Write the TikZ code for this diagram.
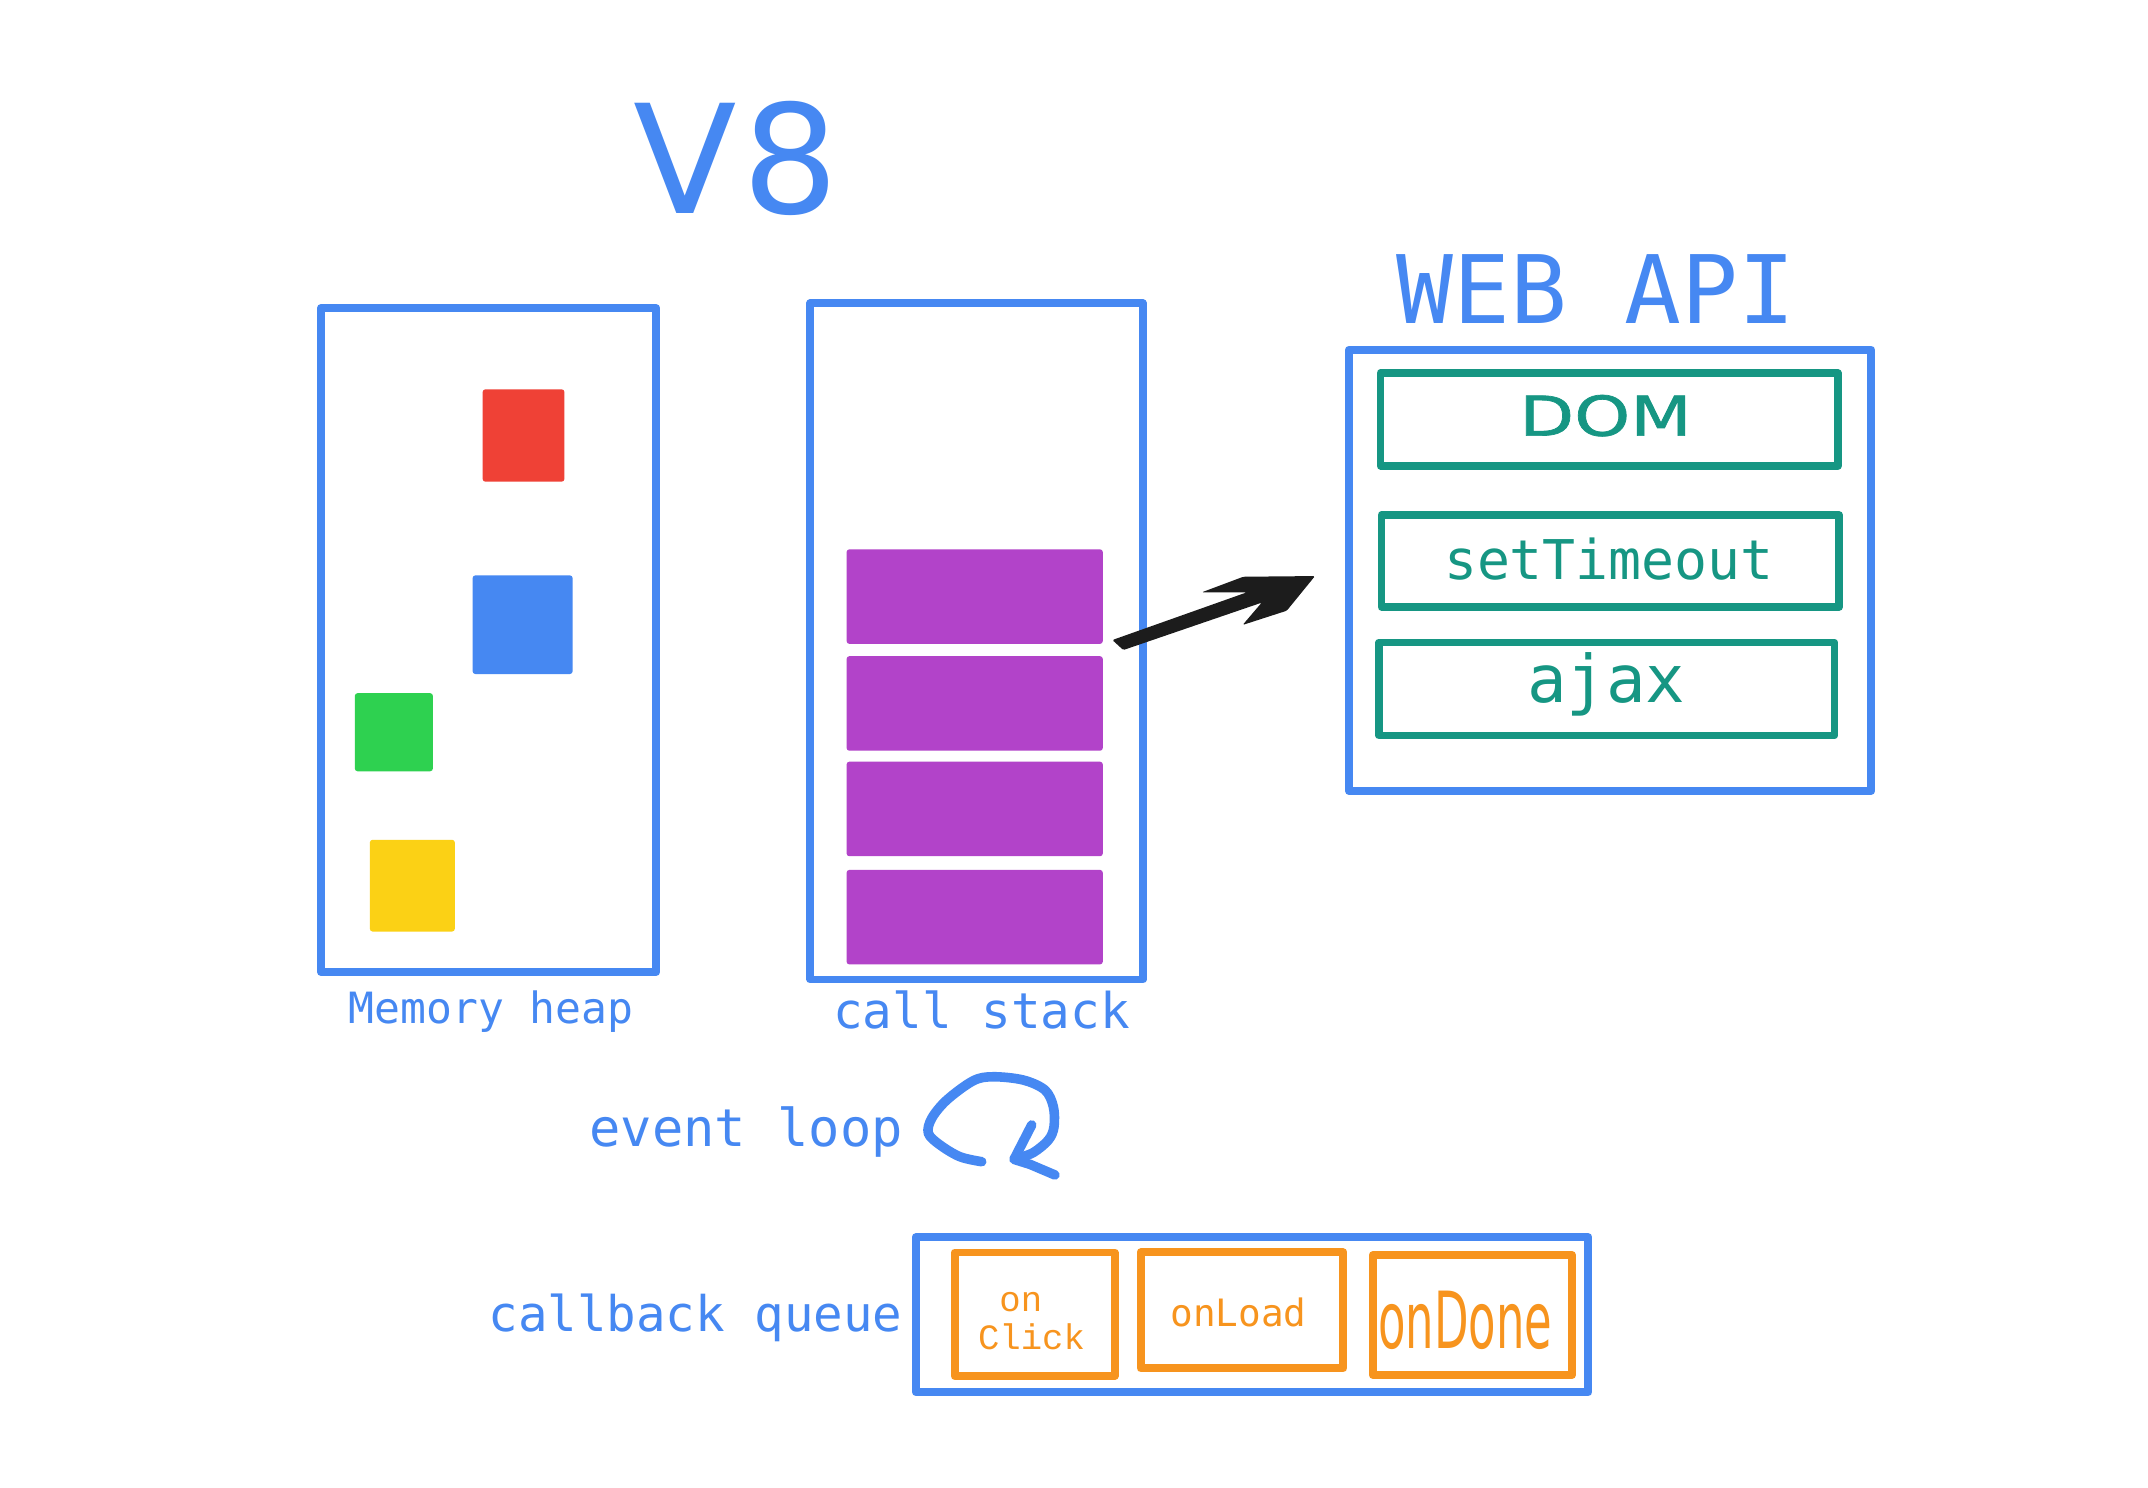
\documentclass[tikz,border=0pt]{standalone}
\usepackage{fontspec}
\newlength{\unitpx}\setlength{\unitpx}{0.7pt}
\newfontfamily\monof{DejaVu Sans Mono}
\newfontfamily\clickf{Liberation Mono}
\newfontfamily\domf[FakeStretch=1.3,FakeBold=1.3]{DejaVu Sans}
\newfontfamily\donef[FakeStretch=0.57]{DejaVu Sans}
\newfontfamily\veightf{DejaVu Sans}
\definecolor{cblue}{HTML}{4688F2}
\definecolor{cred}{HTML}{EF4136}
\definecolor{cgreen}{HTML}{2ED150}
\definecolor{cyellow}{HTML}{FBD115}
\definecolor{cpurple}{HTML}{B243C9}
\definecolor{corange}{HTML}{F7941E}
\definecolor{cteal}{HTML}{169683}
\definecolor{cblack}{HTML}{1C1C1C}
\tikzset{
  bluebox/.style={draw=cblue, line width=5.8\unitpx, inner sep=0pt, line join=round},
  tealbox/.style={draw=cteal, line width=5.6\unitpx, inner sep=0pt, line join=round},
  orangebox/.style={draw=corange, line width=5.8\unitpx, inner sep=0pt, line join=round},
  blob/.style={rounded corners=2\unitpx, inner sep=0pt},
  lbl/.style={text=cblue, inner sep=0pt, anchor=base},
  loopline/.style={cblue, line width=7\unitpx, line cap=round, line join=round},
}
\begin{document}
\begin{tikzpicture}[x=0.7pt,y=-0.7pt]
\useasboundingbox (0,0) rectangle (1568,1086);
\fill[white] (0,0) rectangle (1568,1086);

% titles
\node[lbl, anchor=base west, font=\veightf\fontsize{77.3}{80}\selectfont] (v8) at (462,155.5) {V\hspace{4\unitpx}8};
\node[lbl, font=\monof\fontsize{48.3}{50}\selectfont] (webtitle) at (1165,236) {WEB API};

% memory heap
\node[bluebox, minimum width=244.7\unitpx, minimum height=484.8\unitpx] (heap) at (356.65,467.2) {};
\node[blob, fill=cred, minimum width=59.7\unitpx, minimum height=67.4\unitpx] (sqred) at (382.15,317.9) {};
\node[blob, fill=cblue, minimum width=73\unitpx, minimum height=72\unitpx] (sqblue) at (381.5,456) {};
\node[blob, fill=cgreen, minimum width=57\unitpx, minimum height=57\unitpx] (sqgreen) at (287.5,534.5) {};
\node[blob, fill=cyellow, minimum width=62\unitpx, minimum height=67\unitpx] (sqyellow) at (301,646.5) {};
\node[lbl, font=\monof\fontsize{22}{24}\selectfont] (heaplbl) at (358.5,746.8) {Memory heap};

% call stack
\node[bluebox, minimum width=242.8\unitpx, minimum height=493.5\unitpx] (stack) at (712.9,468.25) {};
\foreach \i/\yy in {1/435.5,2/513.5,3/590.5,4/669.5}{
  \node[blob, fill=cpurple, minimum width=187\unitpx, minimum height=69\unitpx] (frame\i) at (711.5,\yy) {};
}
\node[lbl, font=\monof\fontsize{25.2}{27}\selectfont] (stacklbl) at (716.5,750.5) {call stack};

% arrow to web api
\fill[cblack, rounded corners=1\unitpx] (812,467.2) -- (910.1,432.4) -- (877.2,432.4) -- (907.6,421) -- (959.9,420.5) -- (939.3,445.8) -- (907.1,456.2) -- (921,439.9) -- (820,474.5) -- cycle;

% web api
\node[bluebox, minimum width=381.3\unitpx, minimum height=322.1\unitpx] (webapi) at (1175.35,416.35) {};
\node[tealbox, minimum width=333.8\unitpx, minimum height=67.7\unitpx] (dom) at (1174.6,306.15) {};
\node[tealbox, minimum width=334\unitpx, minimum height=67\unitpx] (timeout) at (1175.5,409.5) {};
\node[tealbox, minimum width=332.6\unitpx, minimum height=67.9\unitpx] (ajax) at (1172.8,502.95) {};
\node[lbl, text=cteal, font=\domf\fontsize{28}{30}\selectfont] (domlbl) at (1172,318) {DOM};
\node[lbl, text=cteal, font=\monof\fontsize{28}{30}\selectfont] (timeoutlbl) at (1174.5,423) {setTimeout};
\node[lbl, text=cteal, font=\monof\fontsize{33.6}{35}\selectfont] (ajaxlbl) at (1172.6,513) {ajax};

% event loop
\node[lbl, font=\monof\fontsize{26.6}{28}\selectfont] (looplbl) at (544.8,836.6) {event loop};
\draw[loopline] plot[smooth, tension=0.55] coordinates {(716.6,848) (700.8,844.4) (686.2,835.8) (677.7,827.3) (680.1,816.4) (691.1,803) (710.5,788.9) (725.1,786) (747,788.4) (762.8,795.7) (768.9,807.8) (769.4,822.5) (765.3,832.2) (754,841.5) (742,845.5)};
\draw[loopline] (753.1,821.2) -- (740.2,846.3) -- (752,850) -- (770.1,857.7);

% callback queue
\node[lbl, font=\monof\fontsize{25.1}{27}\selectfont] (queuelbl) at (507.7,971.6) {callback queue};
\node[bluebox, minimum width=491\unitpx, minimum height=113.2\unitpx] (queue) at (914,959.7) {};
\node[orangebox, minimum width=116.7\unitpx, minimum height=90.2\unitpx] (onclick) at (755.25,959.4) {};
\node[orangebox, minimum width=148\unitpx, minimum height=84.6\unitpx] (onload) at (906.6,956.5) {};
\node[orangebox, minimum width=145.4\unitpx, minimum height=87.6\unitpx] (ondone) at (1074.8,959.9) {};
\node[lbl, text=corange, align=center, font=\clickf\fontsize{18.2}{19.6}\selectfont] (onclicklbl) at (753,985) {on\phantom{x}\\Click};
\node[lbl, text=corange, font=\monof\fontsize{19.25}{21}\selectfont] (onloadlbl) at (904,968.5) {onLoad};
\node[lbl, text=corange, font=\donef\fontsize{40.25}{42}\selectfont] (ondonelbl) at (1069.7,984.3) {onDone};
\end{tikzpicture}
\end{document}
